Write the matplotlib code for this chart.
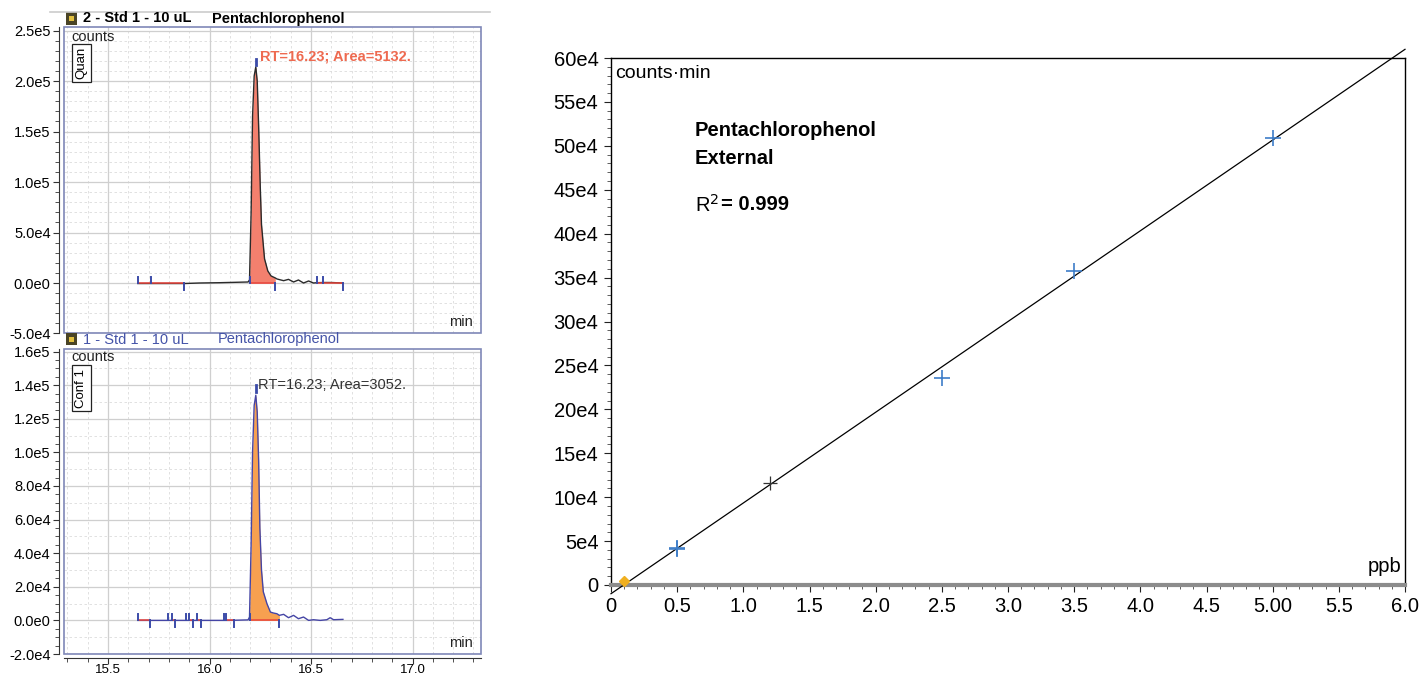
import numpy as np
import matplotlib.pyplot as plt
from matplotlib.patches import Rectangle
from matplotlib.lines import Line2D
from matplotlib.ticker import MultipleLocator, FixedLocator, FuncFormatter

plt.rcParams['font.family'] = ['Liberation Sans', 'DejaVu Sans']

# ---- chromatogram data (min, counts) ----
top_t = [15.647, 15.70, 15.80, 15.876, 15.95, 16.05, 16.15, 16.19, 16.197, 16.205, 16.212,
         16.22, 16.228, 16.235, 16.242, 16.25, 16.256, 16.271, 16.287, 16.303, 16.324, 16.332,
         16.365, 16.389, 16.414, 16.438, 16.463, 16.488, 16.512, 16.529, 16.56, 16.60, 16.657]
top_counts = [-500, -500, -500, -500, 0, 300, 800, 1000, 3000, 70000, 165000,
              205000, 214000, 200000, 155000, 95000, 58000, 24000, 12000, 7000, 5000, 4000,
              2300, 3600, 1000, 3000, 0, 2000, 0, 300, 500, 500, 0]
top_marks_t = [15.647, 15.714, 15.876, 16.197, 16.324, 16.529, 16.558, 16.657]
top_marks_dir = [1, 1, -1, 1, -1, 1, 1, -1]
top_base = [(15.647, 15.876), (16.197, 16.324), (16.529, 16.657)]
top_fill = (16.197, 16.324)
top_apex = (16.228, 216000, 222000)

bot_t = [15.647, 15.70, 15.80, 15.90, 16.00, 16.10, 16.19, 16.197, 16.205, 16.212, 16.22,
         16.228, 16.235, 16.242, 16.248, 16.256, 16.265, 16.283, 16.30, 16.316, 16.332, 16.344,
         16.365, 16.389, 16.414, 16.438, 16.463, 16.488, 16.512, 16.545, 16.578, 16.594, 16.611, 16.657]
bot_counts = [0, 0, 0, 0, 0, 0, 300, 2000, 45000, 100000, 128000,
              134000, 124000, 95000, 55000, 30000, 17000, 9900, 4950, 4350, 3960, 3000,
              3600, 1600, 3000, 1000, 2000, 0, 400, 0, 400, 1600, 400, 600]
bot_marks_t = [15.647, 15.709, 15.796, 15.816, 15.832, 15.885, 15.898, 15.917, 15.939, 15.958,
               16.07, 16.083, 16.122, 16.197, 16.344]
bot_marks_dir = [1, -1, 1, 1, -1, 1, 1, -1, 1, -1, 1, 1, -1, 1, -1]
bot_base = [(15.647, 15.709), (15.816, 15.832), (15.898, 15.917), (15.939, 15.958),
            (16.083, 16.122), (16.197, 16.344)]
bot_fill = (16.197, 16.344)
bot_apex = (16.228, 136000, 140000)

# ---- calibration data (ppb, counts*min) ----
cal_x = [0.1, 0.5, 0.5, 1.2, 2.5, 3.5, 5.0]
cal_y = [4000, 40500, 42500, 116000, 236000, 357000, 508500]
blue_x = [0.5, 0.5, 2.5, 3.5, 5.0]
blue_y = [40500, 42500, 236000, 357000, 508500]
black_x = [1.2]
black_y = [116000]
low_x = [0.1]
low_y = [4000]
cal_xticks = [0, 0.5, 1.0, 1.5, 2.0, 2.5, 3.0, 3.5, 4.0, 4.5, 5.0, 5.5, 6.0]
cal_xlabels = ['0', '0.5', '1.0', '1.5', '2.0', '2.5', '3.0', '3.5', '4.0', '4.5', '5.00', '5.5', '6.0']
cal_yticks = np.arange(0, 600001, 50000)
cal_ylabels = ['0'] + [f'{int(v / 10000)}e4' for v in cal_yticks[1:]]

W, H = 1420, 677
fig = plt.figure(figsize=(W / 100, H / 100), dpi=100)


def rect(x0, y0, x1, y1):
    return [x0 / W, 1 - y1 / H, (x1 - x0) / W, (y1 - y0) / H]


def fx(x):
    return x / W


def fy(y):
    return 1 - y / H


def sci(v, pos=None):
    if abs(v) < 1e-6:
        return '0.0e0'
    e = int(np.floor(np.log10(abs(v)) + 1e-9))
    return f'{v / 10 ** e:.1f}e{e}'


def chrom(box, ylim, ystep, yminor, show_x, t, c, marks_t, marks_dir, base, fill, apex,
          line_col, fill_col):
    ax = fig.add_axes(rect(*box))
    ax.set_xlim(15.281, 17.337)
    ax.set_ylim(*ylim)
    for s in ['top', 'right']:
        ax.spines[s].set_visible(False)
    ax.spines['left'].set_position(('outward', 3.3))
    ax.spines['bottom'].set_position(('outward', 3.0))
    ax.spines['left'].set_color('#333333')
    ax.spines['bottom'].set_color('#333333')
    ax.xaxis.set_major_locator(MultipleLocator(0.5))
    ax.xaxis.set_minor_locator(MultipleLocator(0.1))
    ax.yaxis.set_major_locator(MultipleLocator(ystep))
    ax.yaxis.set_minor_locator(MultipleLocator(yminor))
    ax.yaxis.set_major_formatter(FuncFormatter(sci))
    ax.tick_params(axis='both', which='major', length=4.5, labelsize=10.5, pad=1.5, color='#333333')
    ax.tick_params(axis='x', which='major', length=4, labelsize=9.5, pad=0.5)
    ax.tick_params(axis='both', which='minor', length=3, color='#333333')
    if not show_x:
        ax.spines['bottom'].set_visible(False)
        ax.tick_params(axis='x', which='both', bottom=False, labelbottom=False)
    ax.grid(True, which='major', color='#cfcfcf', lw=0.9)
    ax.grid(True, which='minor', axis='x', color='#dcdcdc', lw=0.6, ls=(0, (3, 3)))
    for gy in np.arange(ylim[0], ylim[1], 10000):
        if gy % ystep:
            ax.axhline(gy, color='#dcdcdc', lw=0.6, ls=(0, (3, 3)), zorder=0.5)
    ax.set_axisbelow(True)
    ax.add_patch(Rectangle((0, 0), 1, 1, transform=ax.transAxes, fill=False,
                           ec='#7F88B8', lw=1.2, clip_on=False, zorder=6))

    t = np.array(t)
    c = np.array(c)
    m = (t >= fill[0]) & (t <= fill[1])
    ax.fill_between(t[m], 0, c[m], color=fill_col, lw=0, zorder=2)
    ax.plot(t, c, color=line_col, lw=1.0, zorder=3)
    for a, b in base:
        ax.plot([a, b], [0, 0], color='#E8453C', lw=1.1, zorder=4)
    px = (ylim[1] - ylim[0]) / (fig.get_figheight() * 100 * ax.get_position().height)
    h = 6.5 * px
    for tm, d in zip(marks_t, marks_dir):
        ax.plot([tm, tm], [0, d * h], color='#3B4BA8', lw=1.4, zorder=5)
    ax.plot([apex[0], apex[0]], [apex[1], apex[2]], color='#3B4BA8', lw=2, zorder=5)
    return ax


ax1 = chrom((63.5, 27, 481, 333.5), (-50000, 253500), 50000, 10000, False,
            top_t, top_counts, top_marks_t, top_marks_dir, top_base, top_fill, top_apex,
            '#2a2a2a', '#F3806E')
ax2 = chrom((63.5, 348.5, 481, 654), (-20000, 161800), 20000, 5000, True,
            bot_t, bot_counts, bot_marks_t, bot_marks_dir, bot_base, bot_fill, bot_apex,
            '#4545A5', '#F7A050')

ax1.text(16.25, 223800, 'RT=16.23; Area=5132.', color='#EE6A50', fontsize=10.5,
         fontweight='bold', va='center', ha='left', zorder=7)
ax2.text(16.24, 139900, 'RT=16.23; Area=3052.', color='#333333', fontsize=10.5,
         va='center', ha='left', zorder=7)

for lab, yc in [('Quan', 63), ('Conf 1', 388)]:
    fig.text(fx(81.5), fy(yc), lab, rotation=90, fontsize=9.5, ha='center', va='center',
             bbox=dict(boxstyle='square,pad=0.25', fc='white', ec='#222222', lw=0.9))

fig.text(fx(71), fy(37), 'counts', fontsize=10.5, va='center', color='#222222')
fig.text(fx(71), fy(357), 'counts', fontsize=10.5, va='center', color='#222222')
fig.text(fx(449), fy(322), 'min', fontsize=10.5, va='center', color='#222222')
fig.text(fx(449), fy(643), 'min', fontsize=10.5, va='center', color='#222222')

# title bars
fig.add_artist(Line2D([fx(50), fx(490)], [fy(12), fy(12)], color='#cccccc', lw=1.2))
for yc in (18.5, 339.5):
    fig.add_artist(Rectangle((fx(66), fy(yc + 6)), 11 / W, 12 / H, transform=fig.transFigure,
                             fc='#4a4426', ec='none'))
    fig.add_artist(Rectangle((fx(69), fy(yc + 2)), 5 / W, 5 / H, transform=fig.transFigure,
                             fc='#E2C040', ec='none'))
fig.text(fx(83), fy(18.5), '2 - Std 1 - 10 uL', fontsize=10.5, fontweight='bold', va='center')
fig.text(fx(212), fy(18.5), 'Pentachlorophenol', fontsize=10.5, fontweight='bold', va='center')
fig.text(fx(83), fy(339.5), '1 - Std 1 - 10 uL', fontsize=10.5, color='#4453A8', va='center')
fig.text(fx(218), fy(339.5), 'Pentachlorophenol', fontsize=10.5, color='#4453A8', va='center')

# ---- calibration curve ----
ax3 = fig.add_axes(rect(611, 58, 1405, 585))
ax3.set_xlim(0, 6)
ax3.set_ylim(0, 600000)
for s in ['top', 'right', 'left']:
    ax3.spines[s].set_color('black')
    ax3.spines[s].set_linewidth(1.0)
ax3.spines['bottom'].set_color('#8c8c8c')
ax3.spines['bottom'].set_linewidth(3)
ax3.xaxis.set_major_locator(FixedLocator(cal_xticks))
ax3.set_xticklabels(cal_xlabels)
ax3.xaxis.set_minor_locator(MultipleLocator(0.1))
ax3.yaxis.set_major_locator(FixedLocator(cal_yticks))
ax3.set_yticklabels(cal_ylabels)
ax3.yaxis.set_minor_locator(MultipleLocator(10000))
ax3.tick_params(axis='both', which='major', length=5, labelsize=14.5, pad=4, color='#222222')
ax3.tick_params(axis='both', which='minor', length=3, color='#444444')

slope, icpt = np.polyfit(cal_x, cal_y, 1)
lx = np.array([0, 6.0])
ax3.plot(lx, slope * lx + icpt, color='black', lw=0.9, clip_on=False, zorder=3)
ax3.plot(blue_x, blue_y, ls='none', marker='+', ms=11, mew=1.2, color='#3D7DC8', zorder=4)
ax3.plot(black_x, black_y, ls='none', marker='+', ms=10, mew=0.9, color='#333333', zorder=4)
ax3.plot(low_x, low_y, ls='none', marker='D', ms=5, color='#F0B020', zorder=4, clip_on=False)

ax3.text(0.005, 0.97, 'counts\u00b7min', transform=ax3.transAxes, fontsize=14, va='center', ha='left')
ax3.text(0.995, 0.036, 'ppb', transform=ax3.transAxes, fontsize=14.5, va='center', ha='right')
fig.text(fx(695), fy(130), 'Pentachlorophenol', fontsize=14.5, fontweight='bold', va='center')
fig.text(fx(695), fy(158), 'External', fontsize=14.5, fontweight='bold', va='center')
fig.text(fx(695), fy(205), 'R$^2$', fontsize=14.5, va='center')
fig.text(fx(721), fy(205), '= 0.999', fontsize=14.5, fontweight='bold', va='center')

fig.savefig('out.png', dpi=100)
